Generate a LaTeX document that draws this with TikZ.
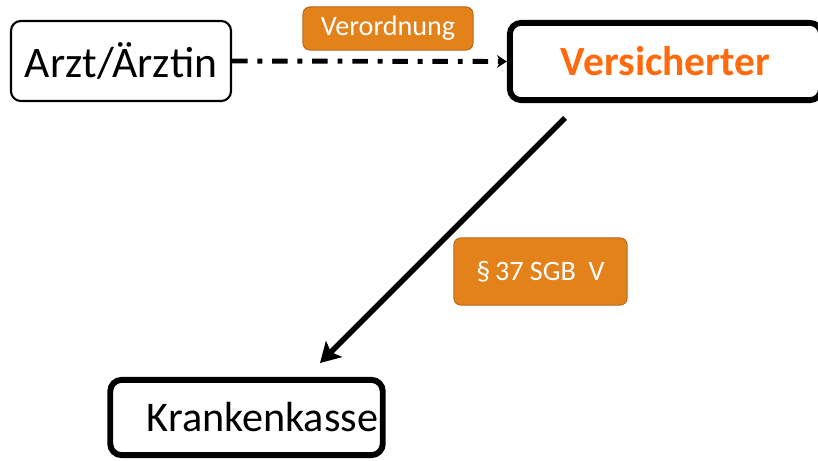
\documentclass[tikz,border=0pt]{standalone}
\usepackage{fontspec}
\setmainfont{Carlito}
\usetikzlibrary{arrows.meta}
\definecolor{orangefill}{RGB}{227,130,26}
\definecolor{orangeline}{RGB}{184,104,30}
\definecolor{versorange}{RGB}{255,106,13}
\tikzset{
	thinbox/.style={draw=black, line width=1.5pt, rounded corners=7pt, fill=white},
	thickbox/.style={draw=black, line width=4.2pt, rounded corners=8pt, fill=white},
	tagbox/.style={draw=orangeline, line width=0.7pt, fill=orangefill, rounded corners=5pt, text=white}
}
\begin{document}
\begin{tikzpicture}[x=0.025cm, y=-0.025cm]
	\useasboundingbox (0,0) rectangle (818,461);
	%Boxen
	\node[thinbox, minimum width=5.5cm, minimum height=2cm, font=\fontsize{31}{34}\selectfont] (arzt) at (121,61) {Arzt/Ärztin};
	\node[thickbox, minimum width=7.78cm, minimum height=1.93cm, text=versorange, font=\fontsize{29.5}{32}\selectfont\bfseries] (vers) at (665.5,61.5) {Versicherter};
	\node[thickbox, minimum width=6.78cm, minimum height=1.88cm, font=\fontsize{30}{33}\selectfont] (kasse) at (246.5,417.5) {\hspace{0.8cm}Krankenkasse};
	%Etiketten
	\node[tagbox, minimum width=4.25cm, minimum height=1.08cm, font=\fontsize{20}{23}\selectfont] (vo) at (388,28.5) {Verordnung};
	\node[tagbox, minimum width=4.33cm, minimum height=1.68cm, font=\fontsize{20}{23}\selectfont] (sgb) at (540.5,271.5) {\S\,37 SGB\ \ V};
	%Pfeile
	\draw[line width=3.5pt, dash pattern=on 11pt off 7pt on 3.5pt off 7pt, -{Stealth[length=7pt, width=9pt]}] (arzt.east) -- (vers.west);
	\coordinate (von) at (565,118);
	\coordinate (nach) at (320,363);
	\draw[line width=4pt, -{Stealth[length=14pt, width=16pt, inset=3pt]}] (von) -- (nach);
\end{tikzpicture}
\end{document}
